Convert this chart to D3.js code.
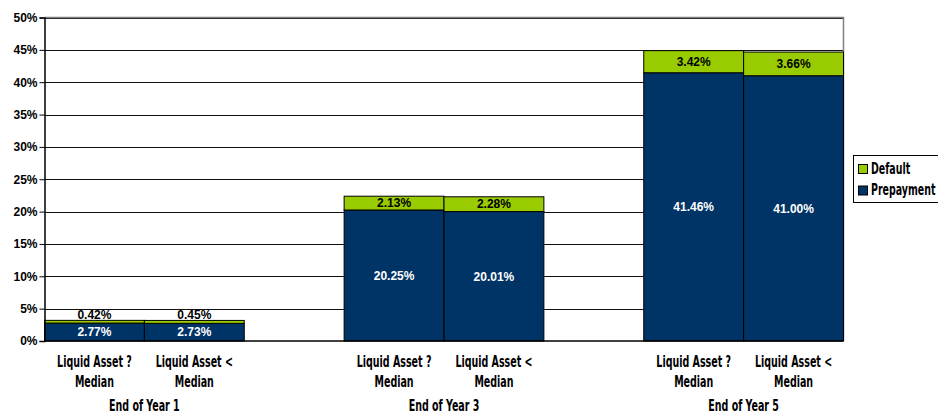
<!DOCTYPE html>
<html>
<head>
<meta charset="utf-8">
<script src="https://cdn.jsdelivr.net/npm/d3@7/dist/d3.min.js"></script>
<style>
  html, body { margin: 0; padding: 0; background: #fff; }
  svg { display: block; }
  .narrow { font-family: "Liberation Sans Narrow", "DejaVu Sans Condensed", "Arial Narrow", sans-serif; font-weight: bold; }
  .val { font-family: "Liberation Sans", Arial, sans-serif; font-weight: bold; font-size: 12px; }
</style>
</head>
<body>
<svg id="chart" width="938" height="416"></svg>
<script>
// Chart data
const groups = ["End of Year 1", "End of Year 3", "End of Year 5"];
const subgroups = ["Liquid Asset ?\nMedian", "Liquid Asset <\nMedian"];
const prepayment = [2.77, 2.73, 20.25, 20.01, 41.46, 41.00];
const defaultRate = [0.42, 0.45, 2.13, 2.28, 3.42, 3.66];
const seriesNames = ["Default", "Prepayment"];
const yTicks = [0, 5, 10, 15, 20, 25, 30, 35, 40, 45, 50];

const colors = { Prepayment: "#003366", Default: "#99CC00" };

const svg = d3.select("#chart");
const plot = { left: 44.5, right: 843.5, top: 17.5, bottom: 341 };

const y = d3.scaleLinear().domain([0, 50]).range([plot.bottom, plot.top]);
const xGroup = d3.scaleBand().domain(groups)
  .range([plot.left, plot.right]).paddingInner(1 / 3).paddingOuter(0);
const xSub = d3.scaleBand().domain(subgroups).range([0, xGroup.bandwidth()]);

// Rows: one per bar
const rows = [];
groups.forEach((g, gi) => subgroups.forEach((s, si) => {
  const i = gi * subgroups.length + si;
  rows.push({ group: g, sub: s, Prepayment: prepayment[i], Default: defaultRate[i] });
}));
const stacked = d3.stack().keys(["Prepayment", "Default"])(rows);

// Gridlines
svg.append("g").selectAll("line").data(yTicks.filter(t => t > 0)).join("line")
  .attr("x1", plot.left).attr("x2", plot.right)
  .attr("y1", d => Math.round(y(d)) + 0.5).attr("y2", d => Math.round(y(d)) + 0.5)
  .attr("stroke", "#111").attr("stroke-width", 1);

// Plot-area frame (top / right)
svg.append("path")
  .attr("d", `M${plot.left},${plot.top}H${plot.right}V${plot.bottom}`)
  .attr("fill", "none").attr("stroke", "#808080").attr("stroke-width", 1.5);

// Bars
const layer = svg.append("g").selectAll("g").data(stacked).join("g")
  .attr("fill", d => colors[d.key]);
layer.selectAll("rect").data(d => d).join("rect")
  .attr("x", d => xGroup(d.data.group) + xSub(d.data.sub))
  .attr("width", xSub.bandwidth())
  .attr("y", d => y(d[1]))
  .attr("height", d => y(d[0]) - y(d[1]))
  .attr("stroke", "#000").attr("stroke-width", 1);

// Value labels
const labels = svg.append("g");
stacked.forEach(s => {
  s.forEach(d => {
    const cx = xGroup(d.data.group) + xSub(d.data.sub) + xSub.bandwidth() / 2;
    const v = d.data[s.key];
    const h = y(d[0]) - y(d[1]);
    let cy = (y(d[0]) + y(d[1])) / 2;
    if (h < 10) cy = y(d[1]) - 6; // thin segment: label above it
    labels.append("text").attr("class", "val")
      .attr("x", cx).attr("y", cy).attr("dy", "0.36em")
      .attr("text-anchor", "middle")
      .attr("fill", s.key === "Prepayment" ? "#fff" : "#000")
      .text(v.toFixed(2) + "%");
  });
});

// Y axis
const yAxis = d3.axisLeft(y).tickValues(yTicks).tickFormat(d => d + "%").tickSize(5).tickPadding(2);
const yg = svg.append("g").attr("transform", `translate(${plot.left},0)`).call(yAxis);
yg.select(".domain").attr("stroke", "#000").attr("stroke-width", 1.5);
yg.selectAll(".tick line").attr("stroke", "#000");
yg.selectAll(".tick text")
  .attr("font-family", "'Liberation Sans', Arial, sans-serif")
  .attr("font-weight", "bold").attr("font-size", 12).attr("fill", "#000");

// X baseline
svg.append("line")
  .attr("x1", plot.left).attr("x2", plot.right)
  .attr("y1", y(0)).attr("y2", y(0))
  .attr("stroke", "#000").attr("stroke-width", 1.5);

// Category labels (two lines each) and group labels
const squeeze = 0.66;
function narrowText(sel, x, yy, str, size) {
  return sel.append("text").attr("class", "narrow")
    .attr("transform", `translate(${x},${yy}) scale(${squeeze},1)`)
    .attr("text-anchor", "middle").attr("font-size", size).attr("fill", "#000")
    .text(str);
}
const xl = svg.append("g");
rows.forEach(r => {
  const cx = xGroup(r.group) + xSub(r.sub) + xSub.bandwidth() / 2;
  r.sub.split("\n").forEach((line, li) => narrowText(xl, cx, 367 + li * 20, line, 16));
});
groups.forEach(g => narrowText(xl, xGroup(g) + xGroup.bandwidth() / 2, 411, g, 16));

// Legend
const leg = svg.append("g");
leg.append("rect").attr("x", 853.5).attr("y", 155.5).attr("width", 100).attr("height", 47)
  .attr("fill", "#fff").attr("stroke", "#000").attr("stroke-width", 1);
seriesNames.forEach((name, i) => {
  const yy = 164 + i * 21.5;
  leg.append("rect").attr("x", 858.5).attr("y", yy + 0.5).attr("width", 9).attr("height", 9)
    .attr("fill", colors[name]).attr("stroke", "#000").attr("stroke-width", 1);
  leg.append("text").attr("class", "narrow")
    .attr("transform", `translate(871,${yy + 9.5}) scale(0.7,1)`)
    .attr("font-size", 15).attr("fill", "#000").text(name);
});
</script>
</body>
</html>
